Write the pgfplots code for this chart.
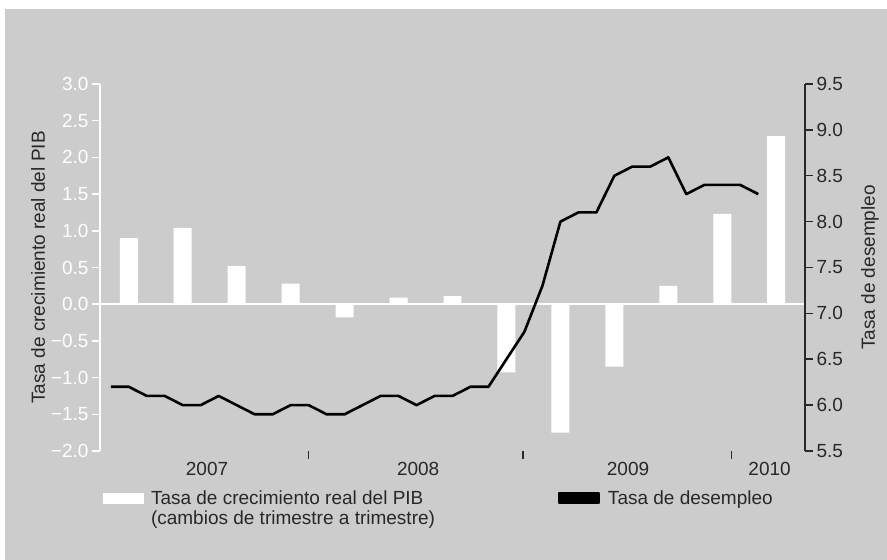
\documentclass[border=0pt]{standalone}
\usepackage{pgfplots}
\pgfplotsset{compat=1.18}
\usepackage{fontspec}
\setmainfont{Liberation Sans}
\definecolor{bg}{RGB}{204,204,204}
\definecolor{ink}{RGB}{40,40,40}
\newcommand{\fs}{\fontsize{19}{20}\selectfont}
\begin{document}
\begin{tikzpicture}[x=1pt,y=1pt]
\useasboundingbox (0,0) rectangle (887,560);
\fill[white] (0,0) rectangle (887,560);
\fill[bg] (5,0) rectangle (887,551);
% ---- left axis: GDP growth bars ----
\begin{axis}[
  at={(100pt,109pt)}, anchor=south west,
  scale only axis, width=705pt, height=367pt,
  xmin=-0.6, xmax=38.6, ymin=-2, ymax=3,
  axis y line*=left, axis x line*=bottom,
  x axis line style={draw=none},
  y axis line style={-, white, line width=2pt},
  tick align=outside, major tick length=8pt,
  ytick={-2,-1.5,-1,-0.5,0,0.5,1,1.5,2,2.5,3},
  yticklabels={−2.0,−1.5,−1.0,−0.5,0.0,0.5,1.0,1.5,2.0,2.5,3.0},
  yticklabel style={text=white, font=\fs},
  y tick style={white, line width=1.5pt},
  xtick={5.35,17.09,28.76,36.63},
  xticklabels={2007,2008,2009,2010},
  x tick style={draw=none},
  xticklabel style={text=ink, font=\fs},
  extra y ticks={0}, extra y tick labels={},
  extra y tick style={grid=major, major grid style={white, line width=2.5pt}},
  ylabel={Tasa de crecimiento real del PIB},
  ylabel style={text=ink, font=\fs, at={(axis description cs:-0.088,0.5)}, anchor=center},
  clip=false,
]
\addplot[ybar, bar width=1, fill=white, draw=none] coordinates {
 (1,0.90) (4,1.04) (7,0.52) (10,0.28) (13,-0.18) (16,0.09) (19,0.11)
 (22,-0.93) (25,-1.75) (28,-0.85) (31,0.25) (34,1.23) (37,2.29)
};
\end{axis}
% ---- right axis: unemployment line ----
\begin{axis}[
  at={(100pt,109pt)}, anchor=south west,
  scale only axis, width=705pt, height=367pt,
  xmin=-0.6, xmax=38.6, ymin=5.5, ymax=9.5,
  axis y line*=right, axis x line*=bottom,
  x axis line style={draw=none},
  y axis line style={-, ink, line width=2pt},
  tick align=outside, major tick length=8pt,
  xtick={10.98,22.92,34.5}, xticklabels={},
  x tick style={ink, line width=1.5pt},
  ytick={5.5,6,6.5,7,7.5,8,8.5,9,9.5},
  yticklabels={5.5,6.0,6.5,7.0,7.5,8.0,8.5,9.0,9.5},
  yticklabel style={text=ink, font=\fs},
  y tick style={ink, line width=1.5pt},
  ylabel={Tasa de desempleo},
  ylabel style={text=ink, font=\fs, at={(axis description cs:1.092,0.5)}, anchor=center},
  legend columns=2,
  legend cell align=left,
  legend style={at={(axis description cs:0,0)}, anchor=north west,
    xshift=2.7pt, yshift=-39pt, draw=none, fill=none, inner sep=0pt,
    column sep=7.7pt, font=\fs, text=ink, nodes={inner sep=0pt}},
  clip=false,
]
\addlegendimage{legend image code/.code={\fill[white] (0pt,-5pt) rectangle (40pt,5pt);}}
\addlegendentry{\makebox[399pt][l]{\begin{tabular}[t]{@{}l@{}}Tasa de crecimiento real del PIB\\(cambios de trimestre a trimestre)\end{tabular}}}
\addplot[black, line width=2.6pt, line join=round,
  legend image code/.code={\fill[black] (0pt,-5pt) rectangle (40pt,5pt);}] coordinates {
 (0,6.2) (1,6.2) (2,6.1) (3,6.1) (4,6.0) (5,6.0) (6,6.1) (7,6.0) (8,5.9) (9,5.9)
 (10,6.0) (11,6.0) (12,5.9) (13,5.9) (14,6.0) (15,6.1) (16,6.1) (17,6.0) (18,6.1)
 (19,6.1) (20,6.2) (21,6.2) (22,6.5) (23,6.8) (24,7.3) (25,8.0) (26,8.1) (27,8.1)
 (28,8.5) (29,8.6) (30,8.6) (31,8.7) (32,8.3) (33,8.4) (34,8.4) (35,8.4) (36,8.3)
};
\addlegendentry{Tasa de desempleo}
\end{axis}
\end{tikzpicture}
\end{document}
